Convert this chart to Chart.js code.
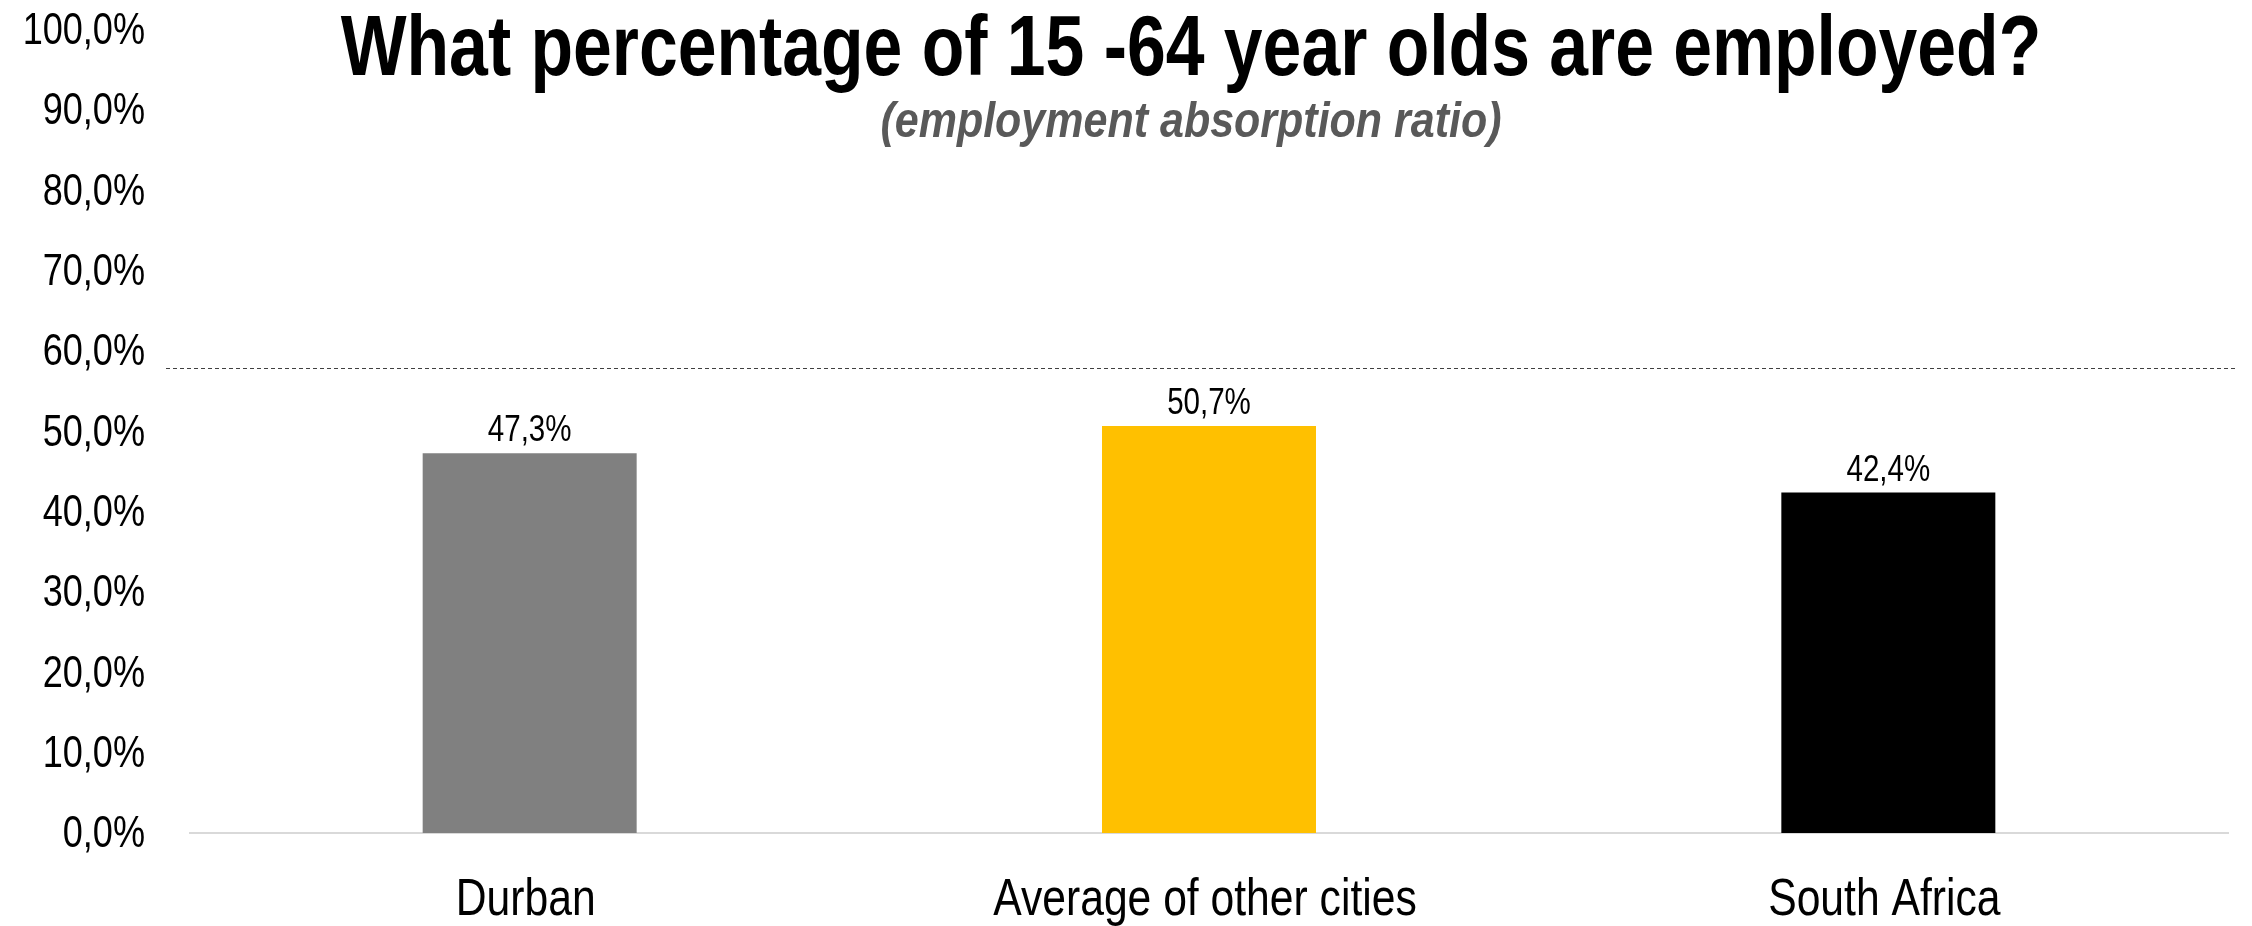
<!DOCTYPE html>
<html>
<head>
<meta charset="utf-8">
<script src="https://cdn.jsdelivr.net/npm/chart.js@4.4.1/dist/chart.umd.min.js"></script>
<style>
    body { margin: 0; background: #ffffff; }
    #wrap { position: relative; width: 2252px; height: 926px; }
    #chartTitle, #chartSubtitle {
        position: absolute;
        left: 130px;
        width: 2122px;
        text-align: center;
        line-height: 1;
        font-family: "Liberation Sans", Arial, sans-serif;
        font-weight: bold;
        margin: 0;
        transform-origin: 50% 50%;
    }
    #chartTitle { top: 3px; font-size: 85px; color: #000000; transform: scaleX(0.82); }
    #chartSubtitle { top: 95px; font-size: 50px; font-style: italic; color: #595959; transform: scaleX(0.86); }
</style>
</head>
<body>
<div id="wrap">
    <canvas id="employChart"></canvas>
    <p id="chartTitle">What percentage of 15 -64 year olds are employed?</p>
    <p id="chartSubtitle">(employment absorption ratio)</p>
</div>

<script>
// Chart data
const categories = ["Durban", "Average of other cities", "South Africa"];
const employedPct = [47.3, 50.7, 42.4];
const barColours = ["#808080", "#FFC000", "#000000"];
const yTicks = [0, 10, 20, 30, 40, 50, 60, 70, 80, 90, 100];
// Dashed reference level across the chart
const referenceLevel = [57.9];

// No Arial Narrow here, so squeeze Liberation Sans sideways
const FONT = '"Liberation Sans", Arial, sans-serif';
const SQUEEZE = 0.82;

// Format like the original: comma decimal
function pctLabel(v) {
    return v.toFixed(1).replace(".", ",") + "%";
}

// Draw narrow text at x,y
function narrowText(ctx, text, x, y, size, align, baseline) {
    ctx.save();
    ctx.translate(x, y);
    ctx.scale(SQUEEZE, 1);
    ctx.font = size + "px " + FONT;
    ctx.fillStyle = "#000000";
    ctx.textAlign = align;
    ctx.textBaseline = baseline;
    ctx.fillText(text, 0, 0);
    ctx.restore();
}

// Axis labels, placed from the chart's own scales
const narrowAxisLabels = {
    id: "narrowAxisLabels",
    afterDraw(chart) {
        const ctx = chart.ctx;
        const area = chart.chartArea;
        const yScale = chart.scales.y;
        const xScale = chart.scales.x;

        yTicks.forEach(v => {
            narrowText(ctx, pctLabel(v), area.left - 45, yScale.getPixelForValue(v) + 2, 44, "right", "middle");
        });

        categories.forEach((c, i) => {
            narrowText(ctx, c, xScale.getPixelForValue(i) - 4, area.bottom + 82, 52, "center", "alphabetic");
        });
    }
};

// Value labels above the bars
const barLabels = {
    id: "barLabels",
    afterDatasetsDraw(chart) {
        const meta = chart.getDatasetMeta(0);
        meta.data.forEach((bar, i) => {
            narrowText(chart.ctx, pctLabel(employedPct[i]), bar.x, bar.y - 12, 36, "center", "alphabetic");
        });
    }
};

// Dashed line at the reference level
const dashedLevel = {
    id: "dashedLevel",
    afterDraw(chart) {
        const ctx = chart.ctx;
        const area = chart.chartArea;
        const y = Math.round(chart.scales.y.getPixelForValue(referenceLevel[0])) + 0.5;
        ctx.save();
        ctx.strokeStyle = "#404040";
        ctx.lineWidth = 1;
        ctx.setLineDash([4, 3]);
        ctx.beginPath();
        ctx.moveTo(area.left - 24, y);
        ctx.lineTo(area.right + 9, y);
        ctx.stroke();
        ctx.restore();
    }
};

const ctx = document.getElementById("employChart").getContext("2d");
const employChart = new Chart(ctx, {
    type: "bar",
    data: {
        labels: categories,
        datasets: [{
            data: employedPct,
            backgroundColor: barColours,
            categoryPercentage: 1,
            barPercentage: 0.315
        }]
    },
    options: {
        responsive: true,
        maintainAspectRatio: false,
        animation: false,
        layout: {
            padding: { top: 30, right: 24, bottom: 0, left: 0 }
        },
        scales: {
            x: {
                grid: { display: false },
                border: { color: "#d9d9d9", width: 2 },
                ticks: { display: false },
                afterFit: s => { s.height = 93; }
            },
            y: {
                min: 0,
                max: 100,
                afterBuildTicks: s => { s.ticks = yTicks.map(v => ({ value: v })); },
                grid: { display: false, drawTicks: false },
                border: { display: false },
                ticks: { display: false },
                afterFit: s => { s.width = 190; }
            }
        },
        plugins: {
            legend: { display: false },
            tooltip: { enabled: false }
        }
    },
    plugins: [barLabels, dashedLevel, narrowAxisLabels]
});
</script>
</body>
</html>
